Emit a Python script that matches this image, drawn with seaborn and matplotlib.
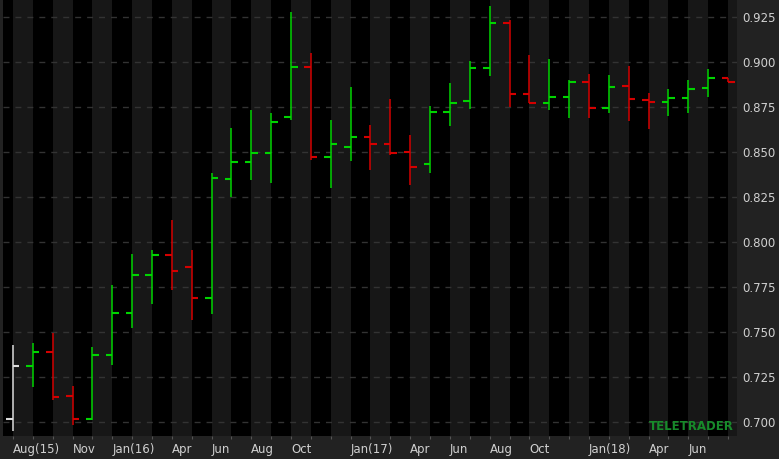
import seaborn as sns
import matplotlib.pyplot as plt
import pandas as pd

# monthly OHLC, Jul 2015 .. Jul 2018
months = pd.date_range('2015-07-01', periods=37, freq='MS').strftime('%b %Y').tolist()
opens = [0.7017, 0.7311, 0.7386, 0.7143, 0.7017, 0.7372, 0.7602, 0.7817, 0.7928, 0.7859,
         0.7686, 0.8347, 0.8443, 0.8493, 0.8695, 0.8972, 0.8472, 0.8528, 0.8583, 0.8541,
         0.8498, 0.8430, 0.8722, 0.8783, 0.8965, 0.9217, 0.8819, 0.8771, 0.8806, 0.8889,
         0.8743, 0.8867, 0.8787, 0.8778, 0.8798, 0.8854, 0.8911]
highs = [0.7426, 0.7439, 0.7494, 0.7200, 0.7417, 0.7758, 0.7932, 0.7952, 0.8119, 0.7952,
         0.8383, 0.8633, 0.8732, 0.8717, 0.9274, 0.9050, 0.8676, 0.8858, 0.8648, 0.8795,
         0.8593, 0.8752, 0.8884, 0.9002, 0.9309, 0.9232, 0.9037, 0.9015, 0.8898, 0.8932,
         0.8926, 0.8976, 0.8828, 0.8850, 0.8898, 0.8960, 0.8911]
lows = [0.6948, 0.7195, 0.7121, 0.6982, 0.7010, 0.7315, 0.7522, 0.7656, 0.7734, 0.7565,
        0.7600, 0.8247, 0.8343, 0.8328, 0.8678, 0.8454, 0.8300, 0.8447, 0.8398, 0.8482,
        0.8315, 0.8383, 0.8643, 0.8739, 0.8921, 0.8747, 0.8769, 0.8732, 0.8689, 0.8686,
        0.8717, 0.8670, 0.8624, 0.8698, 0.8717, 0.8804, 0.8886]
closes = [0.7311, 0.7386, 0.7136, 0.7017, 0.7372, 0.7602, 0.7817, 0.7928, 0.7839, 0.7686,
          0.8352, 0.8443, 0.8493, 0.8665, 0.8972, 0.8472, 0.8541, 0.8583, 0.8541, 0.8493,
          0.8417, 0.8722, 0.8771, 0.8965, 0.9217, 0.8819, 0.8771, 0.8806, 0.8889, 0.8743,
          0.8861, 0.8791, 0.8778, 0.8798, 0.8847, 0.8911, 0.8889]

tick_pos = [0, 3, 5, 8, 10, 12, 14, 17, 20, 22, 24, 26, 29, 32, 34]
tick_labels = ['Aug(15)', 'Nov', 'Jan(16)', 'Apr', 'Jun', 'Aug', 'Oct', 'Jan(17)',
               'Apr', 'Jun', 'Aug', 'Oct', 'Jan(18)', 'Apr', 'Jun']
y_ticks = [0.700, 0.725, 0.750, 0.775, 0.800, 0.825, 0.850, 0.875, 0.900, 0.925]

df = pd.DataFrame({'month': months, 'open': opens, 'high': highs,
                   'low': lows, 'close': closes})
df['x'] = range(len(df))

sns.set_style('dark', rc={'axes.facecolor': '#000000', 'figure.facecolor': '#222222',
                          'grid.color': '#333333', 'text.color': '#d0d0d0',
                          'xtick.color': '#d0d0d0', 'ytick.color': '#d0d0d0'})
plt.rcParams['font.family'] = ['DejaVu Sans']

fig = plt.figure(figsize=(7.79, 4.59), dpi=100)
ax = fig.add_axes([3 / 779, 1 - 436 / 459, 734 / 779, 436 / 459])

GREEN = '#00d400'
RED = '#d40000'
colors = []
for i, r in df.iterrows():
    if i == 0:
        colors.append('#dcdcdc')
    elif r['close'] >= r['open']:
        colors.append(GREEN)
    else:
        colors.append(RED)

# alternating month bands
for k in range(0, len(df), 2):
    ax.axvspan(k, k + 1, color='#171717', lw=0, zorder=0.2)

w = 0.33
ax.vlines(df['x'], df['low'], df['high'], colors=colors, lw=1.1, zorder=3)
ax.hlines(df['open'], df['x'] - w, df['x'], colors=colors, lw=1.5, zorder=3)
ax.hlines(df['close'], df['x'], df['x'] + w, colors=colors, lw=1.5, zorder=3)

ax.set_xlim(-0.5, 36.45)
ax.set_ylim(0.69206, 0.93428)

ax.set_axisbelow(True)
ax.yaxis.grid(True, ls=(0, (4.3, 4.3)), color='#333333', lw=1)
ax.xaxis.grid(False)

ax.yaxis.tick_right()
ax.set_yticks(y_ticks)
ax.set_yticklabels(['%.3f' % v for v in y_ticks])
ax.tick_params(axis='y', length=0, pad=3.5, labelsize=8.5, labelcolor='#d0d0d0')

ax.set_xticks(tick_pos)
ax.set_xticklabels(tick_labels, ha='left')
ax.set_xticks(df['x'], minor=True)
ax.tick_params(axis='x', which='both', length=2.5, width=0.8, color='#555555',
               direction='out', bottom=True, pad=2.5, labelsize=8.5,
               labelcolor='#d0d0d0')

for s in ax.spines.values():
    s.set_visible(False)

ax.text(0.995, 0.008, 'TELETRADER', transform=ax.transAxes, ha='right', va='bottom',
        color='#178a2a', fontsize=8.5, fontweight='bold', family='DejaVu Sans', zorder=4)

fig.savefig('out.png', dpi=100, facecolor=fig.get_facecolor())
